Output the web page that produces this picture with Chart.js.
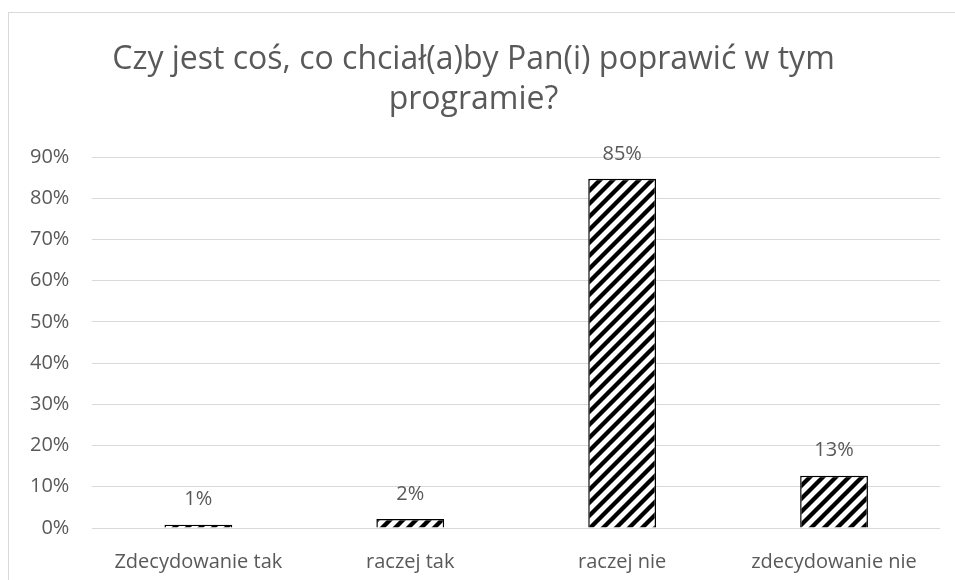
<!DOCTYPE html>
<html>
<head>
<meta charset="utf-8">
<script src="https://cdn.jsdelivr.net/npm/chart.js@4"></script>
<style>
  html, body { margin: 0; padding: 0; background: #fff; }
  #wrap { position: relative; width: 955px; height: 580px; overflow: hidden; }
  #frame { position: absolute; left: 8px; top: 12px; width: 1000px; height: 600px;
           border-left: 1px solid #d9d9d9; border-top: 1px solid #d9d9d9; pointer-events: none; }
  canvas { position: absolute; left: 0; top: 0; }
</style>
</head>
<body>
<div id="wrap">
  <canvas id="chart" width="955" height="580"></canvas>
  <div id="frame"></div>
</div>
<script>
/* data */
const categories = ['Zdecydowanie tak', 'raczej tak', 'raczej nie', 'zdecydowanie nie'];
const shares     = [0.008, 0.022, 0.847, 0.127];
const titleLines = ['Czy jest coś, co chciał(a)by Pan(i) poprawić w tym', 'programie?'];

const FONT = '"Open Sans", Lato, sans-serif';
const GREY = '#595959';

/* hatch pattern ( / stripes ) */
function hatch() {
  const s = 13;
  const c = document.createElement('canvas');
  c.width = s; c.height = s;
  const g = c.getContext('2d');
  g.fillStyle = '#fff';
  g.fillRect(0, 0, s, s);
  g.strokeStyle = '#000';
  g.lineWidth = 4.3;
  g.beginPath();
  g.moveTo(-2, s + 2); g.lineTo(s + 2, -2);
  g.moveTo(-2, 2);     g.lineTo(2, -2);
  g.moveTo(s - 2, s + 2); g.lineTo(s + 2, s - 2);
  g.stroke();
  return g.createPattern(c, 'repeat');
}

/* labels above the bars */
const barLabels = {
  id: 'barLabels',
  afterDatasetsDraw(chart) {
    const ctx = chart.ctx;
    const meta = chart.getDatasetMeta(0);
    ctx.save();
    ctx.font = '20px ' + FONT;
    ctx.fillStyle = GREY;
    ctx.textAlign = 'center';
    ctx.textBaseline = 'middle';
    meta.data.forEach((bar, i) => {
      ctx.fillText(Math.round(shares[i] * 100) + '%', bar.x, bar.y - 25);
    });
    ctx.restore();
  }
};

new Chart(document.getElementById('chart'), {
  type: 'bar',
  data: {
    labels: categories,
    datasets: [{
      data: shares,
      backgroundColor: hatch(),
      borderColor: '#000',
      borderWidth: 1.5,
      barPercentage: 0.32,
      categoryPercentage: 1
    }]
  },
  options: {
    responsive: false,
    animation: false,
    layout: { padding: { left: 7, right: 15, top: 30, bottom: -8 } },
    plugins: {
      legend: { display: false },
      tooltip: { enabled: false },
      title: {
        display: true,
        text: titleLines,
        color: GREY,
        font: { family: FONT, size: 32, weight: 'normal', lineHeight: 1.25 },
        padding: { top: 10, bottom: 37 }
      }
    },
    scales: {
      x: {
        grid: { display: false },
        border: { display: false },
        ticks: { color: GREY, font: { family: FONT, size: 20 }, padding: 14, maxRotation: 0 }
      },
      y: {
        min: 0, max: 0.9,
        grid: { color: '#d9d9d9', lineWidth: 1, drawTicks: false },
        border: { display: false },
        ticks: {
          stepSize: 0.1,
          color: GREY,
          font: { family: FONT, size: 20 },
          padding: 23,
          callback: v => Math.round(v * 100) + '%'
        }
      }
    }
  },
  plugins: [barLabels]
});
</script>
</body>
</html>
